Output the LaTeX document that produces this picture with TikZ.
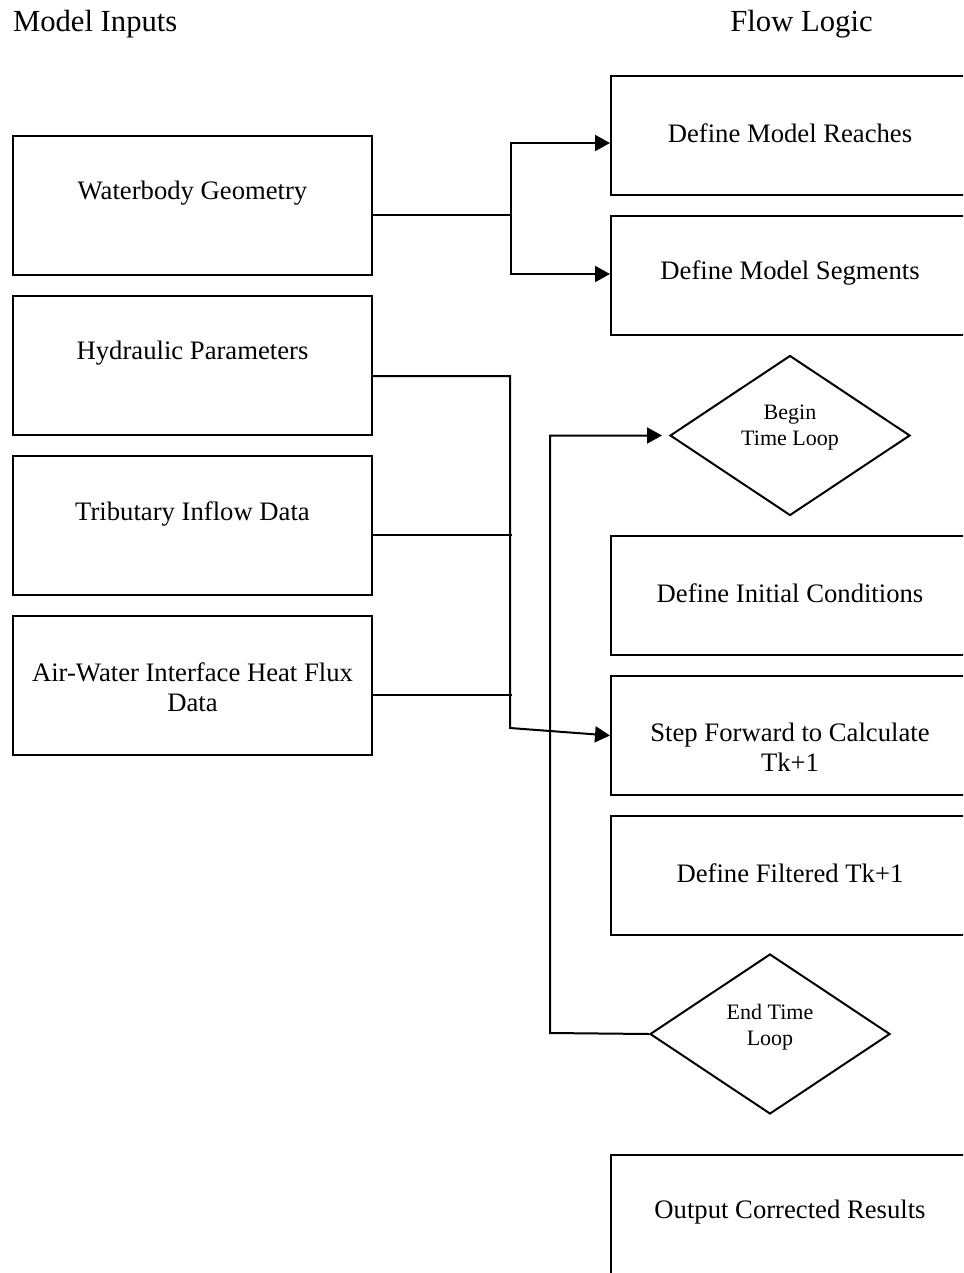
\documentclass[tikz,border=0pt]{standalone}
\usepackage{fontspec}
\setmainfont{Liberation Serif}
\usetikzlibrary{shapes.geometric,arrows.meta,calc}
\begin{document}
\begin{tikzpicture}[x=0.75pt,y=-0.75pt,
 line width=1.5pt,
 lbox/.style={draw, rectangle, minimum width=269.25pt, minimum height=104.25pt, inner sep=0pt},
 rbox/.style={draw, rectangle, minimum width=268.5pt, minimum height=89.25pt, inner sep=0pt},
 dbox/.style={draw, diamond, minimum width=180pt, minimum height=120pt, inner sep=0pt},
 txt/.style={font=\fontsize{20}{22.5}\selectfont, align=center, inner sep=0pt},
 dtxt/.style={font=\fontsize{16.5}{19.5}\selectfont, align=center, inner sep=0pt},
 ttl/.style={font=\fontsize{23}{26}\selectfont, inner sep=0pt},
 arr/.style={-{Triangle[length=11.25pt,width=12pt]}},
]
\path[use as bounding box] (0,0) rectangle (963,1273);
\clip (0,0) rectangle (963,1273);

% titles
\node[ttl, anchor=west] (tin) at (12,24) {Model Inputs};
\node[ttl] (tflow) at (801.5,24) {Flow Logic};

% left boxes
\node[lbox] (geo) at (192.5,205.5) {};
\node[lbox] (hyd) at (192.5,365.5) {};
\node[lbox] (trib) at (192.5,525.5) {};
\node[lbox] (air) at (192.5,685.5) {};
\node[txt] (geoT) at (192.5,193) {Waterbody Geometry};
\node[txt] (hydT) at (192.5,353) {Hydraulic Parameters};
\node[txt] (tribT) at (192.5,514) {Tributary Inflow Data};
\node[txt] (airT) at (192.5,687) {Air-Water Interface Heat Flux\\Data};

% right boxes
\node[rbox] (reach) at (790,135.5) {};
\node[rbox] (seg) at (790,275.5) {};
\node[rbox] (init) at (790,595.5) {};
\node[rbox] (step) at (790,735.5) {};
\node[rbox] (filt) at (790,875.5) {};
\node[rbox] (out) at (790,1214.5) {};
\node[txt] (reachT) at (790,133) {Define Model Reaches};
\node[txt] (segT) at (790,273) {Define Model Segments};
\node[txt] (initT) at (790,593) {Define Initial Conditions};
\node[txt] (stepT) at (790,747) {Step Forward to Calculate\\Tk+1};
\node[txt] (filtT) at (790,873) {Define Filtered Tk+1};
\node[txt] (outT) at (790,1212) {Output Corrected Results};

% diamonds
\node[dbox] (beginD) at (790,435.5) {};
\node[dtxt] (beginT) at (790,428) {Begin\\Time Loop};
\node[dbox] (endD) at (770,1034) {};
\node[dtxt] (endT) at (770,1027.5) {End Time\\Loop};

% connectors
\draw ($(geo.east)+(0,10)$) -- ++(138,0) coordinate (j1);
\draw[arr] (j1) |- ($(reach.west)+(0,7.5)$);
\draw[arr] (j1) |- ($(seg.west)+(0,-1.5)$);

\draw ($(trib.east)+(0,9.5)$) -- ++(139,0);
\draw ($(air.east)+(0,9.5)$) -- ++(139,0);
\draw[arr] ($(hyd.east)+(0,10.5)$) -| ($(step.west)+(-100,-7.5)$) -- (step.west);

\draw[arr, shorten >=5.25pt] (endD.west) -- ++(-99,-1) |- (beginD.west);
\end{tikzpicture}
\end{document}
